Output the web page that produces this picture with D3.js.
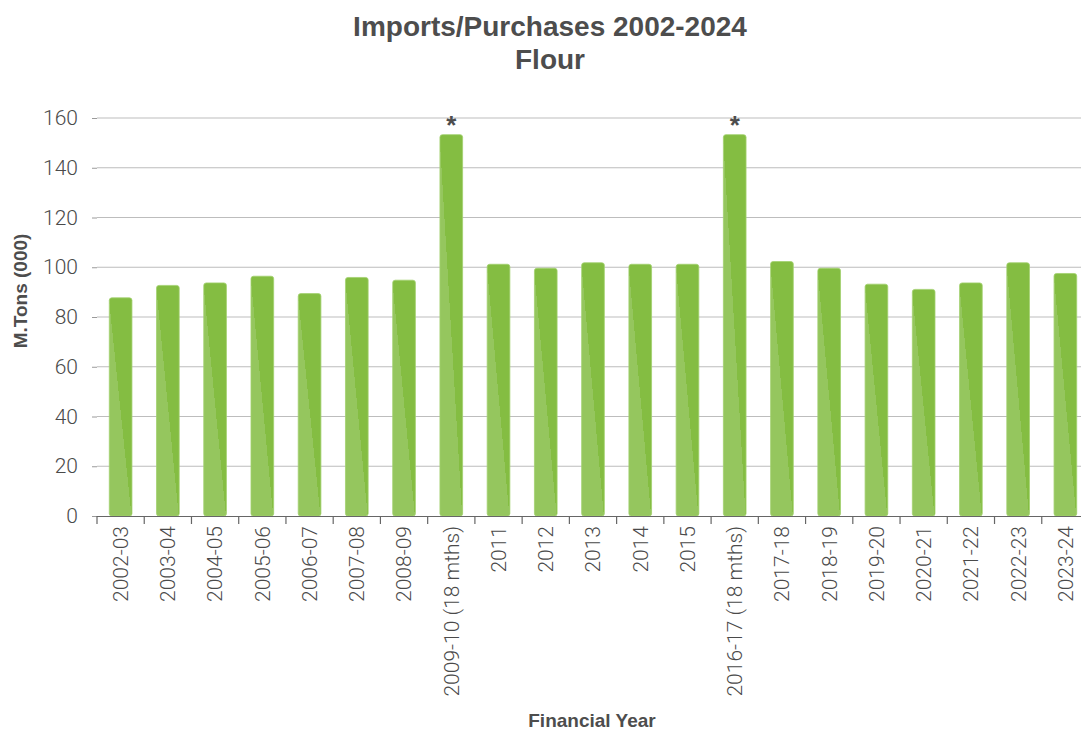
<!DOCTYPE html>
<html>
<head>
<meta charset="utf-8">
<script src="https://cdn.jsdelivr.net/npm/d3@7"></script>
<style>
  body { margin: 0; background: #fff; }
  svg text { font-family: Roboto, "Liberation Sans", sans-serif; }
  svg text.title { font-family: "Liberation Sans", Arial, sans-serif; font-weight: bold; }
</style>
</head>
<body>
<svg id="chart"></svg>
<script>
// ---------- data ----------
var years = ['2002-03', '2003-04', '2004-05', '2005-06', '2006-07', '2007-08', '2008-09',
             '2009-10 (18 mths)', '2011', '2012', '2013', '2014', '2015', '2016-17 (18 mths)',
             '2017-18', '2018-19', '2019-20', '2020-21', '2021-22', '2022-23', '2023-24'];
var tons = [87.7, 92.7, 93.7, 96.4, 89.4, 95.9, 94.8,
            153.3, 101.2, 99.6, 101.8, 101.2, 101.2, 153.3,
            102.3, 99.6, 93.2, 91.1, 93.7, 101.8, 97.5];
var starred = ['2009-10 (18 mths)', '2016-17 (18 mths)'];
var yTicks = [0, 20, 40, 60, 80, 100, 120, 140, 160];

var width = 1081,
    height = 732,
    plotLeft = 97,
    plotRight = 1089,
    plotTop = 118,
    plotBottom = 516;

var svg = d3.select('svg#chart')
    .attr('width', width)
    .attr('height', height);

var x = d3.scaleBand()
    .domain(years)
    .range([plotLeft, plotRight])
    .paddingInner(0.52)
    .paddingOuter(0.26);

var y = d3.scaleLinear()
    .domain([0, 160])
    .range([plotBottom, plotTop]);

// gradient: light bottom-left triangle, darker top-right
var grad = svg.append('defs')
  .append('linearGradient')
    .attr('id', 'barGrad')
    .attr('x1', 0).attr('y1', 1)
    .attr('x2', 1).attr('y2', 0);
grad.append('stop').attr('offset', 0).attr('stop-color', '#95c65e');
grad.append('stop').attr('offset', 0.49).attr('stop-color', '#95c65e');
grad.append('stop').attr('offset', 0.49).attr('stop-color', '#84bd42');
grad.append('stop').attr('offset', 1).attr('stop-color', '#84bd42');

//---------------------grid + y axis----------
var yAxis = d3.axisLeft(y)
    .tickValues(yTicks)
    .tickSize(5)
    .tickPadding(14)
    .tickSizeOuter(0);

var gy = svg.append('g')
    .attr('transform', 'translate(' + plotLeft + ',0)')
    .call(yAxis);
gy.select('.domain').remove();
gy.selectAll('.tick line').attr('stroke', '#9a9a9a');
gy.selectAll('.tick text')
    .attr('fill', '#4a4a4a')
    .style('font-size', '21px')
    .style('font-weight', 300);

svg.append('g')
  .selectAll('line')
  .data(yTicks.filter(d => d > 0))
  .enter()
  .append('line')
    .attr('x1', plotLeft)
    .attr('x2', width)
    .attr('y1', d => y(d))
    .attr('y2', d => y(d))
    .attr('stroke', '#bdbdbd')
    .attr('stroke-width', 1.2);

//---------------------bars----------
svg.append('g')
  .selectAll('rect')
  .data(years)
  .enter()
  .append('rect')
    .attr('x', d => x(d))
    .attr('width', x.bandwidth())
    .attr('y', (d, i) => y(tons[i]))
    .attr('height', (d, i) => y(0) - y(tons[i]))
    .attr('rx', 2.5)
    .attr('fill', 'url(#barGrad)')
    .attr('stroke', '#a2d06f')
    .attr('stroke-width', 0.8);

// asterisks over the 18-month years
svg.append('g')
  .selectAll('text')
  .data(starred)
  .enter()
  .append('text')
    .classed('title', true)
    .attr('x', d => x(d) + x.bandwidth() / 2)
    .attr('y', d => y(tons[years.indexOf(d)]) - 1)
    .attr('text-anchor', 'middle')
    .attr('fill', '#4d4d4d')
    .style('font-size', '26px')
    .text('*');

//---------------------x axis----------
var step = x.step();
svg.append('line')
    .attr('x1', plotLeft)
    .attr('x2', width)
    .attr('y1', plotBottom + 0.5)
    .attr('y2', plotBottom + 0.5)
    .attr('stroke', '#666')
    .attr('stroke-width', 1.2);

svg.append('g')
  .selectAll('line')
  .data(d3.range(years.length + 1))
  .enter()
  .append('line')
    .attr('x1', i => plotLeft + i * step)
    .attr('x2', i => plotLeft + i * step)
    .attr('y1', plotBottom)
    .attr('y2', plotBottom + 8)
    .attr('stroke', '#666')
    .attr('stroke-width', 1.2);

svg.append('g')
  .selectAll('text')
  .data(years)
  .enter()
  .append('text')
    .attr('transform', d => 'translate(' + (x(d) + x.bandwidth() / 2) + ',' + (plotBottom + 10) + ') rotate(-90)')
    .attr('dy', '0.35em')
    .attr('text-anchor', 'end')
    .attr('fill', '#4a4a4a')
    .style('font-size', '21px')
    .style('font-weight', 300)
    .text(d => d);

//---------------------titles----------
svg.append('text')
    .classed('title', true)
    .attr('x', 550)
    .attr('y', 36)
    .attr('text-anchor', 'middle')
    .attr('fill', '#4d4d4d')
    .style('font-size', '28px')
    .text('Imports/Purchases 2002-2024');

svg.append('text')
    .classed('title', true)
    .attr('x', 550)
    .attr('y', 69)
    .attr('text-anchor', 'middle')
    .attr('fill', '#4d4d4d')
    .style('font-size', '28px')
    .text('Flour');

svg.append('text')
    .classed('title', true)
    .attr('transform', 'translate(27,291) rotate(-90)')
    .attr('text-anchor', 'middle')
    .attr('fill', '#4d4d4d')
    .style('font-size', '19px')
    .text('M.Tons (000)');

svg.append('text')
    .classed('title', true)
    .attr('x', 592)
    .attr('y', 727)
    .attr('text-anchor', 'middle')
    .attr('fill', '#4d4d4d')
    .style('font-size', '19px')
    .text('Financial Year');
</script>
</body>
</html>
